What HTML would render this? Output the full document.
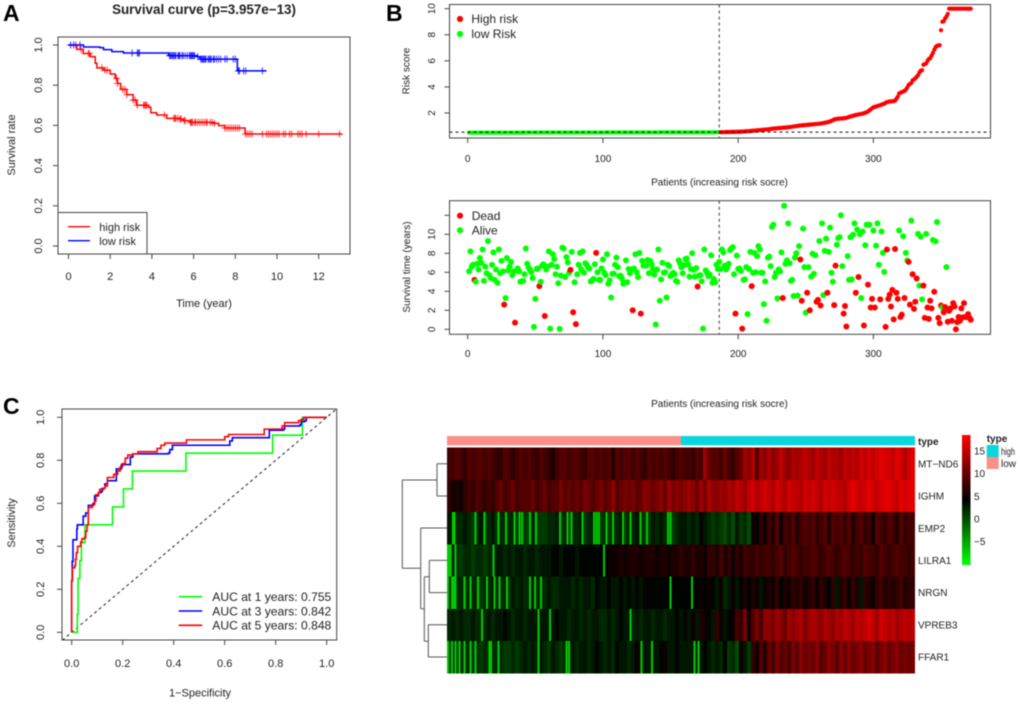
<!DOCTYPE html>
<html lang="en">
<head>
<meta charset="utf-8">
<title>Risk model figure</title>
<style>
html,body{margin:0;padding:0;background:#fff;width:1020px;height:704px;overflow:hidden}
svg{display:block;filter:blur(0.4px)}
text{font-family:"Liberation Sans",Arial,sans-serif;fill:#222}
.frame{fill:none;stroke:#444;stroke-width:1}
.t11{font-size:11px}.t10{font-size:10px}.t12{font-size:12px}
.letter{font-size:23px;font-weight:bold;fill:#000}
</style>
</head>
<body>
<svg id="figure" width="1020" height="704" viewBox="0 0 1020 704" xmlns="http://www.w3.org/2000/svg">
  <rect width="1020" height="704" fill="#fff"/>
  <text class="letter" x="3" y="21">A</text>
  <text class="letter" x="386" y="21">B</text>
  <text class="letter" x="3" y="414">C</text>

  <g id="panelA">
    <text x="204" y="14" text-anchor="middle" style="font-size:13.4px;font-weight:bold">Survival curve (p=3.957e−13)</text>
    <text class="t11" x="204" y="307" text-anchor="middle">Time (year)</text>
    <text class="t11" x="15" y="145" text-anchor="middle" transform="rotate(-90 15 145)">Survival rate</text>
    <g id="kmPlot"></g>
    <rect class="frame" x="58" y="37" width="292" height="217"/>
    <g>
      <rect x="58" y="212.5" width="89" height="41.5" fill="#fff" stroke="#444"/>
      <line x1="68" x2="90" y1="226.7" y2="226.7" stroke="#f00" stroke-width="1.4"/>
      <text class="t11" x="99.3" y="231">high risk</text>
      <line x1="68" x2="90" y1="240.7" y2="240.7" stroke="#00f" stroke-width="1.4"/>
      <text class="t11" x="99.3" y="245">low risk</text>
    </g>
  </g>

  <g id="panelB1">
    <text class="t10" x="719.5" y="185.5" text-anchor="middle">Patients (increasing risk socre)</text>
    <text class="t10" x="409.5" y="71" text-anchor="middle" transform="rotate(-90 409.5 71)">Risk score</text>
    <g id="riskPlot"></g>
    <rect class="frame" x="449.5" y="4.5" width="541" height="133.5"/>
    <circle cx="460" cy="19" r="3.1" fill="#f00"/>
    <text class="t12" x="471.4" y="23.2">High risk</text>
    <circle cx="460" cy="34" r="3.1" fill="#0f0"/>
    <text class="t12" x="471.4" y="38.2">low Risk</text>
  </g>

  <g id="panelB2">
    <text class="t10" x="719.5" y="407" text-anchor="middle">Patients (increasing risk socre)</text>
    <text class="t10" x="410" y="267" text-anchor="middle" transform="rotate(-90 410 267)">Survival time (years)</text>
    <g id="scatterPlot"></g>
    <rect class="frame" x="449.5" y="200.7" width="541" height="133.6"/>
    <circle cx="460" cy="215.7" r="3.1" fill="#f00"/>
    <text class="t12" x="471.7" y="220">Dead</text>
    <circle cx="460" cy="230.3" r="3.1" fill="#0f0"/>
    <text class="t12" x="471.7" y="234.6">Alive</text>
  </g>

  <g id="panelC">
    <text class="t11" x="200" y="696.5" text-anchor="middle">1−Specificity</text>
    <text class="t11" x="15" y="523" text-anchor="middle" transform="rotate(-90 15 523)">Sensitivity</text>
    <g id="rocPlot"></g>
    <rect class="frame" x="62" y="409" width="274.7" height="231"/>
    <g style="font-size:12.1px">
      <line x1="178.7" x2="202.3" y1="596.7" y2="596.7" stroke="#0f0" stroke-width="1.6"/>
      <text x="212.3" y="601">AUC at 1 years: 0.755</text>
      <line x1="178.7" x2="202.3" y1="611" y2="611" stroke="#00f" stroke-width="1.6"/>
      <text x="212.3" y="615.3">AUC at 3 years: 0.842</text>
      <line x1="178.7" x2="202.3" y1="625.3" y2="625.3" stroke="#f00" stroke-width="1.6"/>
      <text x="212.3" y="629.6">AUC at 5 years: 0.848</text>
    </g>
  </g>

  <g id="panelD">
    <g id="dendrogram" fill="none" stroke="#555" stroke-width="1">
      <path d="M402.3 480H437M402.3 568.3H420.7M402.3 480V568.3"/>
      <path d="M437 463.8H447M437 496H447M437 463.8V496"/>
      <path d="M420.7 528H447M420.7 608.7H424.3M420.7 528V608.7"/>
      <path d="M424.3 576.7H429.3M424.3 641.3H428.3M424.3 576.7V641.3"/>
      <path d="M429.3 560.4H447M429.3 592.6H447M429.3 560.4V592.6"/>
      <path d="M428.3 624.8H447M428.3 657H447M428.3 624.8V657"/>
    </g>
    <rect x="447" y="436" width="234" height="9.3" fill="#fb8f8a"/>
    <rect x="681" y="436" width="234" height="9.3" fill="#0ad6de"/>
    <text x="918" y="445" style="font-size:10px;font-weight:bold">type</text>
    <g id="heatmap" shape-rendering="crispEdges"></g>
    <g id="colorbar" shape-rendering="crispEdges"></g>
    <text x="986.7" y="442" style="font-size:10px;font-weight:bold">type</text>
    <rect x="986.7" y="445" width="12" height="12" fill="#0ad6de"/>
    <rect x="986.7" y="457" width="12" height="12" fill="#fb8f8a"/>
    <text class="t10" x="1001" y="455" textLength="14" lengthAdjust="spacingAndGlyphs">high</text>
    <text class="t10" x="1001" y="467">low</text>
  </g>
</svg>

<script>
/* ---------- Panel A data ---------- */
const redTimes = [0,0.4,0.7,1.05,1.28,1.36,1.68,2.0,2.24,2.35,2.5,2.8,3.1,3.27,3.83,3.95,4.23,4.71,5.35,5.5,5.83,6.95,7.2,7.5,8.47,13.1];
const redSurv  = [1,0.978,0.958,0.942,0.909,0.886,0.875,0.856,0.834,0.809,0.779,0.753,0.726,0.70,0.69,0.663,0.652,0.635,0.632,0.624,0.615,0.61,0.599,0.587,0.557,0.557];
const blueTimes = [0,0.72,1.5,1.68,2.08,2.64,4.8,6.15,6.3,8.1,9.5];
const blueSurv  = [1,0.99,0.987,0.977,0.967,0.96,0.947,0.942,0.93,0.871,0.871];
const redCensor = [0.35,0.6,0.95,1.0,1.6,1.75,1.85,2.3,2.35,2.6,2.7,2.8,3.1,3.2,3.3,3.6,3.65,3.7,3.75,4.6,5.05,5.1,5.15,5.25,5.35,5.4,5.55,5.6,5.85,5.9,5.95,6.05,6.1,6.2,6.3,6.4,6.5,6.6,6.65,6.8,6.9,7.0,7.5,7.6,7.7,7.8,7.9,8.0,8.1,8.2,8.5,8.6,8.7,8.8,9.3,9.5,9.6,9.7,9.8,9.9,10.0,10.1,10.3,10.4,10.6,10.7,11.0,11.1,11.2,11.4,12.0,13.0];
const blueCensor = [0.1,0.25,0.55,3.05,3.3,3.35,3.4,4.85,4.9,4.95,5.0,5.05,5.1,5.15,5.25,5.3,5.35,5.45,5.5,5.6,5.7,5.8,5.85,5.9,5.95,6.0,6.05,6.2,6.35,6.4,6.45,6.5,6.55,6.6,6.7,6.75,6.8,6.85,6.95,7.0,7.1,7.2,7.3,7.5,7.6,7.9,8.0,8.15,8.2,8.4,8.5,9.3];
const kmXTicks = [0,2,4,6,8,10,12];
const kmYTicks = ["0.0","0.2","0.4","0.6","0.8","1.0"];

/* ---------- Panel B data ---------- */
const riskLow = [
0.49,0.49,0.49,0.49,0.49,0.49,0.49,0.49,0.49,0.49,0.49,0.49,0.49,0.49,0.49,0.49,0.49,0.49,0.49,0.49,
0.49,0.49,0.49,0.49,0.49,0.49,0.49,0.49,0.49,0.49,0.49,0.49,0.49,0.49,0.49,0.49,0.49,0.49,0.49,0.49,
0.5,0.5,0.5,0.5,0.5,0.5,0.5,0.5,0.5,0.5,0.5,0.5,0.5,0.5,0.5,0.5,0.5,0.5,0.5,0.5,
0.5,0.5,0.5,0.5,0.5,0.5,0.5,0.5,0.5,0.5,0.5,0.5,0.5,0.5,0.5,0.5,0.5,0.5,0.5,0.5,
0.5,0.5,0.5,0.5,0.5,0.5,0.5,0.5,0.5,0.5,0.5,0.5,0.5,0.5,0.5,0.5,0.5,0.5,0.5,0.5,
0.51,0.51,0.51,0.51,0.51,0.51,0.51,0.51,0.51,0.51,0.51,0.51,0.51,0.51,0.51,0.51,0.51,0.51,0.51,0.51,
0.51,0.51,0.51,0.51,0.51,0.51,0.51,0.51,0.51,0.51,0.51,0.51,0.51,0.51,0.51,0.51,0.51,0.51,0.51,0.51,
0.52,0.52,0.52,0.52,0.52,0.52,0.52,0.52,0.52,0.52,0.52,0.52,0.52,0.52,0.52,0.52,0.52,0.52,0.52,0.52,
0.52,0.52,0.52,0.52,0.52,0.52,0.52,0.52,0.52,0.52,0.52,0.52,0.52,0.52,0.52,0.52,0.52,0.52,0.52,0.52,
0.52,0.52,0.52,0.52,0.53,0.53];
const riskHigh = [
0.53,0.53,0.53,0.53,0.54,0.54,0.54,0.54,0.55,0.55,0.55,0.55,0.56,0.56,0.56,0.57,0.57,0.58,0.59,0.60,
0.60,0.61,0.62,0.63,0.64,0.65,0.66,0.67,0.68,0.69,0.70,0.71,0.72,0.73,0.74,0.75,
0.76,0.77,0.79,0.80,0.81,0.82,0.83,0.84,0.85,0.86,0.87,0.88,0.89,0.90,0.91,0.92,0.93,0.95,
0.97,0.98,1.00,1.01,1.03,1.04,1.05,1.06,1.07,1.08,1.09,1.10,
1.11,1.12,1.13,1.14,1.15,1.16,1.17,1.18,1.20,1.21,1.23,1.25,1.27,1.29,
1.32,1.36,1.40,1.45,1.50,1.53,1.55,1.56,1.57,1.58,1.59,1.60,1.61,
1.63,1.66,1.70,1.73,1.76,1.79,1.82,1.85,1.87,1.89,1.91,1.93,1.95,1.98,2.02,2.06,
2.12,2.20,2.28,2.36,2.44,
2.47,2.50,2.54,2.57,2.60,2.64,2.68,2.72,2.78,2.84,2.86,2.88,2.89,2.90,2.91,
2.95,3.08,3.25,3.50,
3.55,3.60,3.65,3.70,3.78,3.95,4.15,
4.22,4.30,4.50,4.58,4.65,4.78,4.90,5.10,5.25,5.28,
5.70,5.75,5.80,6.00,6.15,6.20,6.40,
6.60,6.85,7.05,7.15,7.18,7.20,
8.35,9.00,9.05,9.25,9.40,9.60,
10,10,10,10,10,10,10,10,10,10,10,10,10,10,10,10,10];
const patientTicks = [0,100,200,300];
const riskTicks = [2,4,6,8,10];
const cutoffPatient = [186];
const cutoffRisk = [0.53];

const survivalYears = [
6.1,8.2,6.6,6.8,5.2,5.0,6.9,6.3,7.5,7.0,8.4,5.1,6.6,5.9,9.3,5.7,5.4,6.8,8.1,5.2,
6.3,4.9,8.4,5.9,7.2,6.1,2.6,3.3,7.5,6.2,6.6,7.1,5.7,6.1,0.7,6.2,6.4,6.1,5.0,5.05,
5.1,5.8,8.5,6.9,6.5,6.3,6.0,5.4,0.25,3.2,6.35,6.4,4.55,5.0,6.7,6.85,1.4,6.3,6.6,8.2,
0.07,6.8,7.9,7.4,5.8,6.6,4.85,0.05,5.65,8.6,8.5,5.5,7.6,7.05,5.95,6.25,8.15,1.8,4.95,0.55,
5.8,6.8,8.05,6.3,8.2,5.95,6.95,6.8,6.5,6.4,5.05,5.15,5.3,6.85,8.05,6.0,5.2,5.2,6.4,7.35,
5.95,5.7,7.9,4.8,5.15,3.35,5.85,5.85,6.8,7.55,6.55,5.6,5.65,5.35,4.8,4.9,7.25,4.95,6.35,5.9,
6.3,2.0,6.4,7.9,6.0,5.5,8.05,1.65,7.2,6.7,6.7,6.7,7.3,5.9,7.2,6.85,6.35,5.75,0.5,6.3,
8.4,3.0,5.25,7.0,5.95,6.0,3.35,6.8,6.65,5.6,5.8,5.95,5.8,5.1,5.0,7.25,6.95,6.55,5.9,6.75,
7.4,7.45,6.85,5.55,6.35,8.0,6.25,5.55,6.45,4.5,5.65,5.7,5.05,0.07,8.4,6.2,5.95,5.6,5.75,7.8,
4.9,5.3,4.95,6.8,6.35,7.1,6.35,8.4,8.1,6.7,6.3,6.5,6.9,8.35,8.5,8.65,5.8,1.65,7.75,6.35,
6.4,6.15,0.07,5.2,5.25,6.55,1.6,6.35,8.15,4.55,5.95,8.05,6.0,7.7,8.75,8.4,5.95,5.95,2.65,5.05,
0.9,7.55,7.65,6.65,10.8,11.0,5.5,5.95,3.25,6.3,6.1,8.1,3.3,13.0,6.9,7.25,11.15,6.95,5.1,5.2,
3.5,7.55,8.0,3.55,8.75,7.35,3.0,10.6,6.55,1.75,3.85,6.55,2.0,5.55,7.95,5.85,7.8,2.9,3.1,9.3,
2.5,11.15,3.6,8.25,9.55,3.85,8.15,10.7,5.95,5.0,2.55,6.7,8.9,9.6,9.7,12.0,6.65,1.65,2.45,0.3,
7.7,5.2,9.7,5.25,9.95,11.15,3.85,10.5,5.5,10.0,3.3,10.3,0.4,8.85,11.0,4.7,11.0,2.3,3.2,10.4,
2.3,8.8,11.15,6.8,3.15,10.3,8.05,6.05,0.25,8.4,3.2,3.65,2.4,4.15,1.05,8.45,3.85,3.2,10.4,1.3,
1.55,9.8,3.3,8.05,7.25,7.1,2.6,11.45,5.8,2.15,2.9,5.35,10.05,4.6,9.75,3.15,4.6,1.2,10.05,2.3,
1.1,3.0,2.2,9.4,3.95,9.25,11.3,1.2,0.65,2.5,2.3,1.8,2.35,6.55,0.8,1.95,2.2,0.9,2.75,2.4,
0.0,0.75,1.3,0.9,2.2,1.25,2.75,1.3,1.3,1.6,1.2,1.0];
const deadPatients = [5,27,35,53,57,76,78,80,95,122,128,170,198,203,210,233,246,247,251,253,258,259,261,266,271,272,278,279,280,287,289,293,296,298,299,301,305,309,310,311,312,313,314,315,316,317,318,320,321,323,326,327,329,330,331,332,337,338,340,341,342,343,345,348,349,350,352,353,355,356,357,358,359,360,361,362,363,364,365,366,367,368,369,370,371,372];
const yearTicks = [0,2,4,6,8,10,12];
const yearLabels = ["0","2","4","6","8","10",""];

/* ---------- Panel C data ---------- */
const roc1Fpr = [0,0.022,0.022,0.025,0.032,0.038,0.052,0.16,0.203,0.238,0.448,0.788,0.905,1];
const roc1Tpr = [0,0,0.083,0.25,0.333,0.417,0.5,0.583,0.667,0.75,0.833,0.917,1,1];
const roc3Fpr = [0,0,0.002,0.005,0.018,0.02,0.022,0.04,0.045,0.055,0.065,0.065,0.085,0.09,0.09,0.105,0.115,0.12,0.13,0.14,0.17,0.175,0.19,0.195,0.22,0.23,0.24,0.38,0.385,0.395,0.61,0.62,0.63,0.765,0.775,0.83,0.835,0.895,0.9,0.915,0.92,1];
const roc3Tpr = [0,0.24,0.33,0.43,0.43,0.48,0.5,0.5,0.54,0.555,0.56,0.59,0.6,0.625,0.635,0.65,0.655,0.67,0.69,0.705,0.705,0.76,0.76,0.78,0.78,0.815,0.83,0.835,0.85,0.87,0.87,0.89,0.905,0.905,0.94,0.945,0.96,0.965,0.98,0.985,1,1];
const roc5Fpr = [0,0,0.003,0.012,0.015,0.018,0.023,0.035,0.04,0.05,0.055,0.06,0.065,0.08,0.09,0.095,0.105,0.11,0.125,0.13,0.14,0.14,0.16,0.165,0.18,0.19,0.2,0.21,0.22,0.24,0.26,0.33,0.335,0.35,0.365,0.44,0.45,0.595,0.6,0.615,0.755,0.755,0.82,0.825,0.835,0.885,0.89,0.9,0.91,1];
const roc5Tpr = [0,0.24,0.3,0.31,0.34,0.37,0.4,0.42,0.435,0.44,0.47,0.5,0.58,0.595,0.61,0.64,0.65,0.665,0.67,0.68,0.69,0.72,0.72,0.735,0.75,0.77,0.785,0.81,0.825,0.83,0.84,0.84,0.855,0.87,0.88,0.88,0.895,0.895,0.91,0.92,0.92,0.945,0.945,0.96,0.975,0.975,0.985,0.99,1,1];
const rocTicks = ["0.0","0.2","0.4","0.6","0.8","1.0"];

/* ---------- Heatmap data ---------- */
const geneNames = ["MT−ND6","IGHM","EMP2","LILRA1","NRGN","VPREB3","FFAR1"];
const colorbarTicks = [15,10,5,0,-5];
const exprMTND6 = [8,8,9,8,7,9,8,9,9,8, 9,8,7,7,9,8,7,8,9,8, 9,8,7,9,8,7,6,8,9,9, 8,9,9,8,7,9,9,8,9,8, 9,6,9,8,9,9,8,9,8,7, 9,8,9,8,9,8,7,8,9,8, 8,7,9,8,13,10,9,9,8,10, 8,7,9,10,13,12,14,9,13,12, 14,12,13,15,13,12,14,13,14,15, 14,13,15,14,13,15,14,14,13,15, 14,15,14,16,15,16,15,16,17,16, 16,15,17,16,14,16,17];
const exprIGHM = [7,5,6,5,7,8,7,9,8,7, 8,7,9,10,8,9,10,8,9,9, 9,10,8,9,10,8,9,9,11,9, 10,9,10,9,11,10,9,10,11,9, 10,12,9,10,11,10,11,9,10,12, 11,10,11,12,10,13,11,12,11,12, 13,12,10,13,11,14,12,12,13,12, 14,13,15,14,13,15,16,14,15,16, 15,14,16,15,14,16,15,15,14,16, 15,16,15,14,16,15,16,15,15,14, 16,17,16,15,16,17,16,15,16,17, 17,16,15,17,16,17,17];
const exprEMP2 = [3,2,2,2,3,2,1,2,3,1, 2,3,1,2,2,2,2,1,2,1, 1,2,1,1,1,2,2,3,1,2, 1,2,2,3,1,2,3,1,1,2, 1,2,2,3,1,2,2,3,2,1, 1,3,2,3,2,1,1,2,3,3, 2,3,2,4,3,2,1,2,1,0, 2,0,3,1,2,0,5,4,7,5, 8,6,9,5,8,7,9,6,8,9, 8,9,7,8,9,6,9,8,9,7, 9,6,8,9,7,8,5,9,8,7, 9,8,6,9,7,8,8];
const exprLILRA1 = [1,2,2,1,2,2,1,2,2,1, 2,2,3,3,2,3,2,3,3,2, 3,3,2,3,3,3,4,4,3,4, 4,4,3,4,4,4,4,4,4,4, 5,5,5,6,5,6,6,6,5,6, 6,6,5,6,6,5,6,6,7,6, 6,7,6,6,5,7,7,6,8,6, 7,5,7,6,8,7,7,8,7,8, 8,7,8,9,7,8,9,8,7,8, 8,9,8,7,8,9,8,7,8,9, 8,7,8,7,9,8,8,7,9,8, 7,8,9,8,8,7,8];
const exprNRGN = [2,1,2,2,1,2,2,2,1,2, 2,3,2,2,2,1,3,2,3,2, 2,3,2,2,2,3,2,2,3,3, 3,2,3,2,3,3,2,4,3,3, 4,3,3,4,3,4,3,4,3,5, 4,4,4,4,4,4,4,4,4,4, 4,4,4,5,4,5,4,3,5,2, 3,5,3,4,6,4,6,5,3,5, 6,5,7,4,6,5,7,6,7,5, 6,7,5,7,6,4,7,3,6,7, 5,7,6,3,7,6,5,7,8,6, 7,6,7,8,6,7,7];
const exprVPREB3 = [2,3,2,3,2,2,3,2,2,2, 3,2,3,3,4,3,2,3,3,2, 3,3,3,3,3,3,3,4,3,3, 2,3,3,2,3,2,3,3,2,2, 3,2,3,4,3,3,2,3,2,3, 3,2,3,3,2,3,3,4,3,4, 3,5,3,6,5,4,3,7,5,3, 4,5,8,7,11,5,9,11,8,12, 12,11,13,12,10,13,12,13,14,11, 13,14,13,12,14,13,12,14,13,15, 14,13,15,14,15,16,15,13,16,15, 14,15,13,14,15,14,15];
const exprFFAR1 = [1,2,1,2,2,2,1,2,1,2, 1,2,2,2,1,1,2,1,2,3, 2,3,2,3,2,1,3,2,1,2, 1,3,2,3,3,2,3,4,3,2, 3,2,4,3,3,2,3,5,3,3, 3,3,3,4,5,3,3,4,3,3, 3,3,3,3,4,3,2,3,2,4, 1,2,0,5,3,1,7,5,9,6, 10,8,11,9,10,8,11,9,12,10, 11,10,12,9,10,12,11,9,12,10, 12,10,11,12,10,11,12,9,11,12, 10,11,12,10,11,10,11];
const exprRows = [exprMTND6,exprIGHM,exprEMP2,exprLILRA1,exprNRGN,exprVPREB3,exprFFAR1];
/* single-patient outlier columns (patient indices), low expression */
const outliersMTND6 = [];
const outliersIGHM = [];
const outliersEMP2 = [5,6,23,30,41,47,54,58,60,66,71,90,96,99,108,117,119,121,127,132,140,146,154,159,176,178];
const outliersLILRA1 = [1,2,3,7,37,125];
const outliersNRGN = [1,4,5,6,7,14,19,25,32,38,42,48,66,70,75,178,195];
const outliersVPREB3 = [28,73,82,146];
const outliersFFAR1 = [1,4,7,10,14,19,23,34,35,41,73,95,97,155,163,197,200];
const outlierRows = [outliersMTND6,outliersIGHM,outliersEMP2,outliersLILRA1,outliersNRGN,outliersVPREB3,outliersFFAR1];
const outlierValue = [-7];

/* ---------- Helpers ---------- */
const NS = 'http://www.w3.org/2000/svg';
function mk(tag, attrs, parent, txt) {
  const el = document.createElementNS(NS, tag);
  for (const k in attrs) el.setAttribute(k, attrs[k]);
  if (txt !== undefined) el.textContent = txt;
  parent.appendChild(el);
  return el;
}
function linear(d0, d1, r0, r1) { return v => r0 + (v - d0) * (r1 - r0) / (d1 - d0); }
function stepPath(xs, ys, sx, sy) {
  let d = 'M' + sx(xs[0]).toFixed(2) + ' ' + sy(ys[0]).toFixed(2);
  for (let i = 1; i < xs.length; i++) {
    d += 'H' + sx(xs[i]).toFixed(2) + 'V' + sy(ys[i]).toFixed(2);
  }
  return d;
}
function xAxis(parent, values, labels, sx, y0, labelY, cls, prefix) {
  values.forEach((v, i) => {
    const t = mk('line', {x1: sx(v), x2: sx(v), y1: y0, y2: y0 + 5, stroke: '#444'}, parent);
    
    
    const l = mk('text', {x: sx(v), y: labelY, 'text-anchor': 'middle', class: cls}, parent, labels[i]);
    
    
  });
}
function yAxis(parent, values, labels, sy, x0, labelX, cls, prefix) {
  values.forEach((v, i) => {
    const t = mk('line', {x1: x0 - 5, x2: x0, y1: sy(v), y2: sy(v), stroke: '#444'}, parent);
    
    
    if (labels[i] === '') return;
    const l = mk('text', {x: labelX, y: sy(v), 'text-anchor': 'middle', class: cls,
      transform: 'rotate(-90 ' + labelX + ' ' + sy(v) + ')'}, parent, labels[i]);
    
    
  });
}

/* ---------- Panel A ---------- */
(function () {
  const g = document.getElementById('kmPlot');
  const sx = linear(0, 12, 68.5, 318.7);
  const sy = linear(0, 1, 246, 45);
  const lookup = (ts, ss, t) => { let s = ss[0]; for (let i = 0; i < ts.length; i++) if (ts[i] <= t) s = ss[i]; return s; };
  const drawCurve = (ts, ss, cens, color, name) => {
    const p = mk('path', {d: stepPath(ts, ss, sx, sy), fill: 'none', stroke: color, 'stroke-width': 1.5}, g);
    
    
    cens.forEach(t => {
      const y = sy(lookup(ts, ss, t));
      const c = mk('path', {d: 'M' + sx(t) + ' ' + (y - 3.5) + 'v7M' + (sx(t) - 3.5) + ' ' + y + 'h7', stroke: color, 'stroke-width': 1, 'stroke-opacity': 0.8, fill: 'none'}, g);
      
      
    });
  };
  drawCurve(redTimes, redSurv, redCensor, '#f00', 'high-risk');
  drawCurve(blueTimes, blueSurv, blueCensor, '#00f', 'low-risk');
  xAxis(g, kmXTicks, kmXTicks.map(String), sx, 254, 280, 't11', 'survival');
  yAxis(g, kmYTicks.map(Number), kmYTicks, sy, 58, 42, 't11', 'survival');
})();

/* ---------- Panel B ---------- */
(function () {
  const g = document.getElementById('riskPlot');
  const sx = linear(0, 300, 467.7, 873.4);
  const sy = linear(2, 10, 113, 8.7);
  const all = riskLow.concat(riskHigh);
  all.forEach((v, i) => {
    const c = mk('circle', {cx: sx(i + 1), cy: sy(v), r: 2.1, fill: i < riskLow.length ? '#0f0' : '#f00'}, g);
    
    
  });
  const h = mk('line', {x1: 449.5, x2: 990.5, y1: sy(cutoffRisk[0]), y2: sy(cutoffRisk[0]), stroke: '#111', 'stroke-dasharray': '3 3'}, g);
  
  
  const v = mk('line', {x1: sx(cutoffPatient[0]), x2: sx(cutoffPatient[0]), y1: 4.5, y2: 138, stroke: '#333', 'stroke-dasharray': '3 3'}, g);
  
  
  xAxis(g, patientTicks, patientTicks.map(String), sx, 138, 162, 't10', 'risk');
  yAxis(g, riskTicks, riskTicks.map(String), sy, 449.5, 435, 't10', 'risk');

  const g2 = document.getElementById('scatterPlot');
  const sy2 = linear(0, 10, 329.3, 234.3);
  const v2 = mk('line', {x1: sx(cutoffPatient[0]), x2: sx(cutoffPatient[0]), y1: 200.7, y2: 334.3, stroke: '#333', 'stroke-dasharray': '3 3'}, g2);
  
  
  const dead = new Set(deadPatients);
  survivalYears.forEach((y, i) => {
    const isDead = dead.has(i + 1);
    const c = mk('circle', {cx: sx(i + 1), cy: sy2(y), r: 3, fill: isDead ? '#f00' : '#0f0'}, g2);
    
    
  });
  xAxis(g2, patientTicks, patientTicks.map(String), sx, 334.3, 357, 't10', 'scatter');
  yAxis(g2, yearTicks, yearLabels, sy2, 449.5, 435, 't10', 'scatter');
})();

/* ---------- Panel C ---------- */
(function () {
  const g = document.getElementById('rocPlot');
  const sx = linear(0, 1, 71.7, 326.7);
  const sy = linear(0, 1, 632.3, 417.3);
  const diag = mk('line', {x1: sx(-0.037), y1: sy(-0.037), x2: sx(1.037), y2: sy(1.037), stroke: '#222', 'stroke-dasharray': '3 3'}, g);
  
  
  const curve = (fpr, tpr, color, name) => {
    const p = mk('path', {d: stepPath(fpr, tpr, sx, sy), fill: 'none', stroke: color, 'stroke-width': 1.6}, g);
    
    
  };
  curve(roc1Fpr, roc1Tpr, '#0f0', 'roc-curve-1-year');
  curve(roc3Fpr, roc3Tpr, '#00f', 'roc-curve-3-years');
  curve(roc5Fpr, roc5Tpr, '#f00', 'roc-curve-5-years');
  xAxis(g, rocTicks.map(Number), rocTicks, sx, 640, 667, 't11', 'roc');
  yAxis(g, rocTicks.map(Number), rocTicks, sy, 62, 44, 't11', 'roc');
})();

/* ---------- Heatmap ---------- */
(function () {
  const g = document.getElementById('heatmap');
  const vMin = -10, vMid = 4.25, vMax = 18.5;
  const color = v => {
    if (v >= vMid) {
      const r = Math.round(255 * Math.min(1, (v - vMid) / (vMax - vMid)));
      return 'rgb(' + r + ',0,0)';
    }
    const gr = Math.round(255 * Math.min(1, (vMid - v) / (vMid - vMin)));
    return 'rgb(0,' + gr + ',0)';
  };
  const left = 447, width = 468, top = 447.7, rowH = 32.23;
  const patientCount = survivalYears.length;
  const sp = linear(0, patientCount, left, left + width);
  exprRows.forEach((row, r) => {
    const cw = width / row.length;
    row.forEach((v, c) => {
      const cell = mk('rect', {x: (left + c * cw).toFixed(2), y: (top + r * rowH).toFixed(2), width: (cw + 0.2).toFixed(2), height: rowH.toFixed(2), fill: color(v)}, g);
      
      
    });
    outlierRows[r].forEach(p => {
      const cell = mk('rect', {x: sp(p - 1).toFixed(2), y: (top + r * rowH).toFixed(2), width: 2, height: rowH.toFixed(2), fill: color(outlierValue[0])}, g);
      
      
    });
    const lab = mk('text', {x: 918, y: top + (r + 0.5) * rowH + 3.5, class: 't10'}, g, geneNames[r]);
    
    
  });
  const cb = document.getElementById('colorbar');
  const cy = linear(15, -5, 451, 541.7);
  const steps = 50;
  for (let i = 0; i < steps; i++) {
    const v0 = vMax - (vMax - vMin) * i / steps;
    const v1 = vMax - (vMax - vMin) * (i + 1) / steps;
    const s = mk('rect', {x: 962, y: cy(v0).toFixed(2), width: 8.3, height: (cy(v1) - cy(v0) + 0.4).toFixed(2), fill: color((v0 + v1) / 2)}, cb);
    
    
  }
  colorbarTicks.forEach(v => {
    const t = mk('text', {x: 974, y: cy(v) + 3.5, class: 't10'}, cb, String(v).replace('-', '−'));
    
    
  });
})();
</script>
</body>
</html>
